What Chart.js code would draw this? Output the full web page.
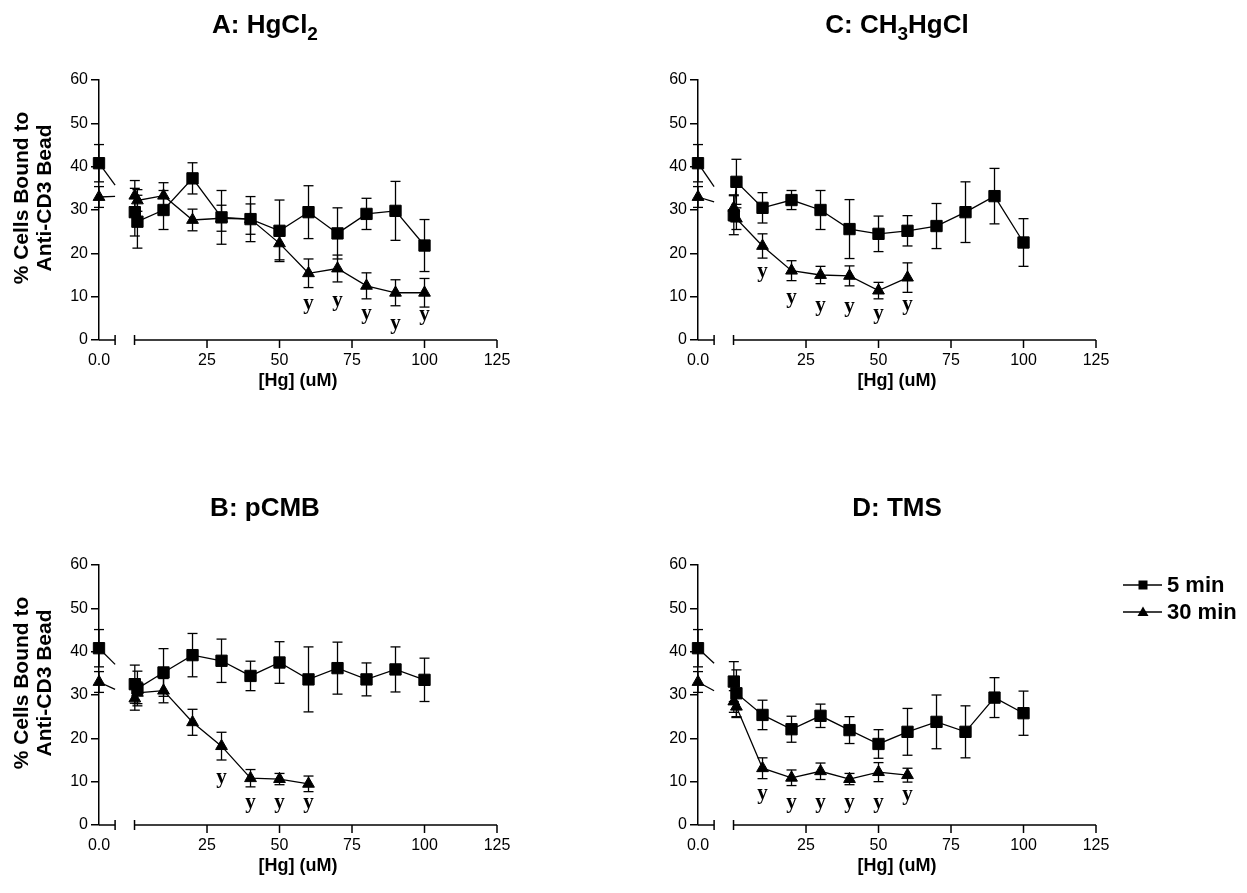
<!DOCTYPE html>
<html><head><meta charset="utf-8">
<script src="https://cdn.jsdelivr.net/npm/chart.js@4.4.1/dist/chart.umd.min.js"></script>
<style>
html,body{margin:0;padding:0;background:#fff;width:1247px;height:893px;overflow:hidden}
canvas{position:absolute}
</style></head><body>
<canvas id="cA" width="600" height="440" style="left:0;top:0"></canvas>
<canvas id="cC" width="647" height="440" style="left:600px;top:0"></canvas>
<canvas id="cB" width="600" height="433" style="left:0;top:460px"></canvas>
<canvas id="cD" width="647" height="433" style="left:600px;top:460px"></canvas>
<script>
// ---------------- DATA ----------------
const seriesNames = ['5 min', '30 min'];
const controlLabel = '0.0';
const xTickValues = [25, 50, 75, 100, 125];

// untreated control (0.0 uM), shared by all panels
const control5 = 40.8, control5Err = 4.3;
const control30 = 33.0, control30Err = 2.4;

const dosesAll = [0.1, 1, 10, 20, 30, 40, 50, 60, 70, 80, 90, 100];
const doses60 = [0.1, 1, 10, 20, 30, 40, 50, 60];

// A: HgCl2
const mean5A = [29.5, 27.3, 30.0, 37.3, 28.3, 27.9, 25.2, 29.5, 24.6, 29.1, 29.8, 21.8];
const err5A  = [5.5, 6.1, 4.5, 3.6, 6.2, 5.2, 7.1, 6.1, 5.9, 3.6, 6.8, 6.0];
const mean30A = [33.3, 32.2, 33.3, 27.7, 28.1, 27.9, 22.3, 15.4, 16.5, 12.5, 10.9, 10.9];
const err30A  = [3.5, 2.5, 3.0, 2.5, 3.0, 3.5, 3.8, 3.3, 3.1, 3.0, 3.0, 3.3];
const sigDoseA = [60, 70, 80, 90, 100];
const sigPosA  = [7.8, 8.6, 5.5, 3.2, 5.4];

// C: CH3HgCl
const mean5C = [28.8, 36.5, 30.5, 32.3, 30.0, 25.6, 24.5, 25.2, 26.3, 29.5, 33.2, 22.5];
const err5C  = [4.5, 5.2, 3.5, 2.2, 4.5, 6.8, 4.1, 3.5, 5.2, 7.0, 6.4, 5.5];
const mean30C = [30.5, 28.0, 21.7, 16.0, 15.0, 14.8, 11.4, 14.4];
const err30C  = [3.0, 2.5, 2.8, 2.3, 2.0, 2.3, 1.9, 3.4];
const sigDoseC = [10, 20, 30, 40, 50, 60];
const sigPosC  = [15.2, 9.2, 7.3, 7.2, 5.5, 7.7];

// B: pCMB
const mean5B = [32.5, 31.5, 35.2, 39.2, 37.9, 34.4, 37.5, 33.6, 36.2, 33.6, 35.9, 33.5];
const err5B  = [4.4, 4.0, 5.5, 5.0, 5.0, 3.4, 4.8, 7.5, 6.0, 3.8, 5.2, 5.0];
const mean30B = [29.2, 30.5, 31.0, 23.7, 18.2, 10.8, 10.6, 9.5];
const err30B  = [2.7, 2.5, 2.8, 3.0, 3.2, 2.0, 1.3, 1.8];
const sigDoseB = [30, 40, 50, 60];
const sigPosB  = [10.5, 4.6, 4.6, 4.6];

// D: TMS
const mean5D = [33.1, 30.4, 25.4, 22.1, 25.2, 21.9, 18.7, 21.5, 23.8, 21.5, 29.4, 25.8];
const err5D  = [4.6, 5.4, 3.4, 3.0, 2.7, 3.1, 3.3, 5.4, 6.2, 6.0, 4.6, 5.1];
const mean30D = [28.5, 27.3, 13.1, 10.9, 12.4, 10.6, 12.2, 11.5];
const err30D  = [2.5, 2.5, 2.4, 1.8, 1.9, 1.3, 2.2, 1.6];
const sigDoseD = [10, 20, 30, 40, 50, 60];
const sigPosD  = [6.7, 4.6, 4.6, 4.6, 4.6, 6.4];

// ---------------- LAYOUT ----------------
const CTRL_POS = -12.25;   // axis position used for the 0.0 control
const BREAK_END = -6.7;    // end of the short control segment
const FONT = '"Liberation Sans", Arial, Helvetica, sans-serif';
const SERIF = '"Liberation Serif", "Times New Roman", serif';

const panels = {
  cA: {title: [['A: HgCl', 0], ['2', 1]], titleX: 265, titleY: 33, yTitle: true, yTitleY: 198,
       m5: mean5A, e5: err5A, m30: mean30A, e30: err30A, d30: dosesAll, sigD: sigDoseA, sigP: sigPosA,
       pad: {left: 0, top: 80, right: 103}, yW: 99, xH: 100},
  cC: {title: [['C: CH', 0], ['3', 1], ['HgCl', 0]], titleX: 297, titleY: 33, yTitle: false,
       m5: mean5C, e5: err5C, m30: mean30C, e30: err30C, d30: doses60, sigD: sigDoseC, sigP: sigPosC,
       pad: {left: 0, top: 80, right: 151}, yW: 98, xH: 100},
  cB: {title: [['B: pCMB', 0]], titleX: 265, titleY: 56, yTitle: true, yTitleY: 223,
       m5: mean5B, e5: err5B, m30: mean30B, e30: err30B, d30: doses60, sigD: sigDoseB, sigP: sigPosB,
       pad: {left: 0, top: 105, right: 103}, yW: 99, xH: 68},
  cD: {title: [['D: TMS', 0]], titleX: 297, titleY: 56, yTitle: false, legend: true,
       m5: mean5D, e5: err5D, m30: mean30D, e30: err30D, d30: doses60, sigD: sigDoseD, sigP: sigPosD,
       pad: {left: 0, top: 105, right: 151}, yW: 98, xH: 68}
};

function line(ctx, x1, y1, x2, y2) { ctx.beginPath(); ctx.moveTo(x1, y1); ctx.lineTo(x2, y2); ctx.stroke(); }

const brokenAxis = {
  id: 'brokenAxis',
  beforeDatasetsDraw(chart) {
    const {ctx} = chart, x = chart.scales.x, y = chart.scales.y;
    const y0 = y.getPixelForValue(0);
    ctx.save();
    ctx.strokeStyle = '#000'; ctx.lineWidth = 1.5;
    const xc = x.getPixelForValue(CTRL_POS), xb = x.getPixelForValue(BREAK_END);
    const xm = x.getPixelForValue(0), xe = x.getPixelForValue(125);
    line(ctx, xc, y0, xb, y0);
    line(ctx, xb, y0 - 5, xb, y0 + 5);
    line(ctx, xm, y0, xe, y0);
    line(ctx, xm, y0 - 5, xm, y0 + 5);
    xTickValues.forEach(v => { const px = x.getPixelForValue(v); line(ctx, px, y0, px, y0 + 8); });
    // error bars + connectors
    ctx.lineWidth = 1.3;
    chart.data.datasets.forEach(ds => {
      ds.data.forEach((p, i) => {
        const px = x.getPixelForValue(p.x);
        const t = y.getPixelForValue(p.y + ds.err[i]), b = y.getPixelForValue(p.y - ds.err[i]);
        line(ctx, px, t, px, b);
        line(ctx, px - 5, t, px + 5, t);
        line(ctx, px - 5, b, px + 5, b);
      });
      const p0 = ds.data[0], p1 = ds.data[1];
      const cx = x.getPixelForValue(p0.x), cy = y.getPixelForValue(p0.y);
      const qx = x.getPixelForValue(p1.x), qy = y.getPixelForValue(p1.y);
      const ey = cy + (qy - cy) * (xb - cx) / (qx - cx);
      line(ctx, cx, cy, xb, ey);
    });
    ctx.restore();
  },
  afterDraw(chart) {
    const info = panels[chart.canvas.id];
    const {ctx, chartArea} = chart, x = chart.scales.x, y = chart.scales.y;
    ctx.save();
    ctx.fillStyle = '#000';
    // title with subscripts
    const big = 'bold 26px ' + FONT, small = 'bold 19px ' + FONT;
    let w = 0;
    info.title.forEach(([t, s]) => { ctx.font = s ? small : big; w += ctx.measureText(t).width; });
    let tx = info.titleX - w / 2;
    ctx.textBaseline = 'alphabetic'; ctx.textAlign = 'left';
    info.title.forEach(([t, s]) => {
      ctx.font = s ? small : big;
      ctx.fillText(t, tx, info.titleY + (s ? 7 : 0));
      tx += ctx.measureText(t).width;
    });
    // x title
    ctx.font = 'bold 18px ' + FONT; ctx.textAlign = 'center'; ctx.textBaseline = 'middle';
    ctx.fillText('[Hg] (uM)', (chartArea.left + chartArea.right) / 2, y.getPixelForValue(0) + 41);
    // y title
    if (info.yTitle) {
      ctx.font = 'bold 21px ' + FONT; ctx.textAlign = 'center'; ctx.textBaseline = 'middle';
      ctx.save();
      ctx.translate(22, info.yTitleY); ctx.rotate(-Math.PI / 2);
      ctx.fillText('% Cells Bound to', 0, 0);
      ctx.restore();
      ctx.save();
      ctx.translate(45, info.yTitleY); ctx.rotate(-Math.PI / 2);
      ctx.fillText('Anti-CD3 Bead', 0, 0);
      ctx.restore();
    }
    // significance marks
    ctx.font = 'bold 21px ' + SERIF; ctx.textAlign = 'center'; ctx.textBaseline = 'alphabetic';
    info.sigD.forEach((d, i) => ctx.fillText('y', x.getPixelForValue(d), y.getPixelForValue(info.sigP[i]) + 3));
    // legend
    if (info.legend) {
      const lx = 523, ly = [125, 152];
      ctx.lineWidth = 1.3; ctx.strokeStyle = '#000';
      ly.forEach((yy, k) => {
        line(ctx, lx, yy, lx + 39, yy);
        const cx = lx + 20;
        if (k === 0) ctx.fillRect(cx - 4.5, yy - 4.5, 9, 9);
        else { ctx.beginPath(); ctx.moveTo(cx, yy - 5.5); ctx.lineTo(cx + 5.5, yy + 4); ctx.lineTo(cx - 5.5, yy + 4); ctx.closePath(); ctx.fill(); }
        ctx.font = 'bold 22px ' + FONT; ctx.textAlign = 'left'; ctx.textBaseline = 'middle';
        ctx.fillText(seriesNames[k], lx + 44, yy + 1);
      });
    }
    ctx.restore();
  }
};

function build(id) {
  const info = panels[id];
  const ds5 = {
    label: seriesNames[0],
    data: [{x: CTRL_POS, y: control5}, ...dosesAll.map((d, i) => ({x: d, y: info.m5[i]}))],
    err: [control5Err, ...info.e5],
    pointStyle: 'rect', pointRadius: 8, pointBorderWidth: 1
  };
  const ds30 = {
    label: seriesNames[1],
    data: [{x: CTRL_POS, y: control30}, ...info.d30.map((d, i) => ({x: d, y: info.m30[i]}))],
    err: [control30Err, ...info.e30],
    pointStyle: 'triangle', pointRadius: 6.8, pointBorderWidth: 1
  };
  [ds5, ds30].forEach(ds => Object.assign(ds, {
    borderColor: '#000', backgroundColor: '#000', pointBackgroundColor: '#000', pointBorderColor: '#000',
    borderWidth: 1.3, tension: 0, showLine: true, clip: false,
    segment: {borderColor: c => c.p0DataIndex === 0 ? 'rgba(0,0,0,0)' : '#000'}
  }));
  new Chart(document.getElementById(id), {
    type: 'scatter',
    data: {datasets: [ds5, ds30]},
    options: {
      responsive: false, animation: false, devicePixelRatio: 1, events: [],
      layout: {padding: Object.assign({bottom: 0}, info.pad)},
      plugins: {legend: {display: false}, tooltip: {enabled: false}, title: {display: false}},
      scales: {
        x: {
          type: 'linear', min: CTRL_POS, max: 125,
          afterBuildTicks: s => { s.ticks = [CTRL_POS, ...xTickValues].map(v => ({value: v})); },
          afterFit: s => { s.height = info.xH; },
          ticks: {color: '#000', font: {family: FONT, size: 16}, padding: 11, maxRotation: 0, autoSkip: false,
                  callback: v => v === CTRL_POS ? controlLabel : String(v)},
          grid: {display: false, drawTicks: false},
          border: {display: false}
        },
        y: {
          min: 0, max: 60,
          afterFit: s => { s.width = info.yW; },
          ticks: {stepSize: 10, color: '#000', font: {family: FONT, size: 16}, padding: 3},
          grid: {display: true, drawOnChartArea: false, drawTicks: true, tickLength: 8, color: '#000', lineWidth: 1.5},
          border: {display: true, color: '#000', width: 1.5}
        }
      }
    },
    plugins: [brokenAxis]
  });
}
['cA', 'cC', 'cB', 'cD'].forEach(build);
</script>
</body></html>
